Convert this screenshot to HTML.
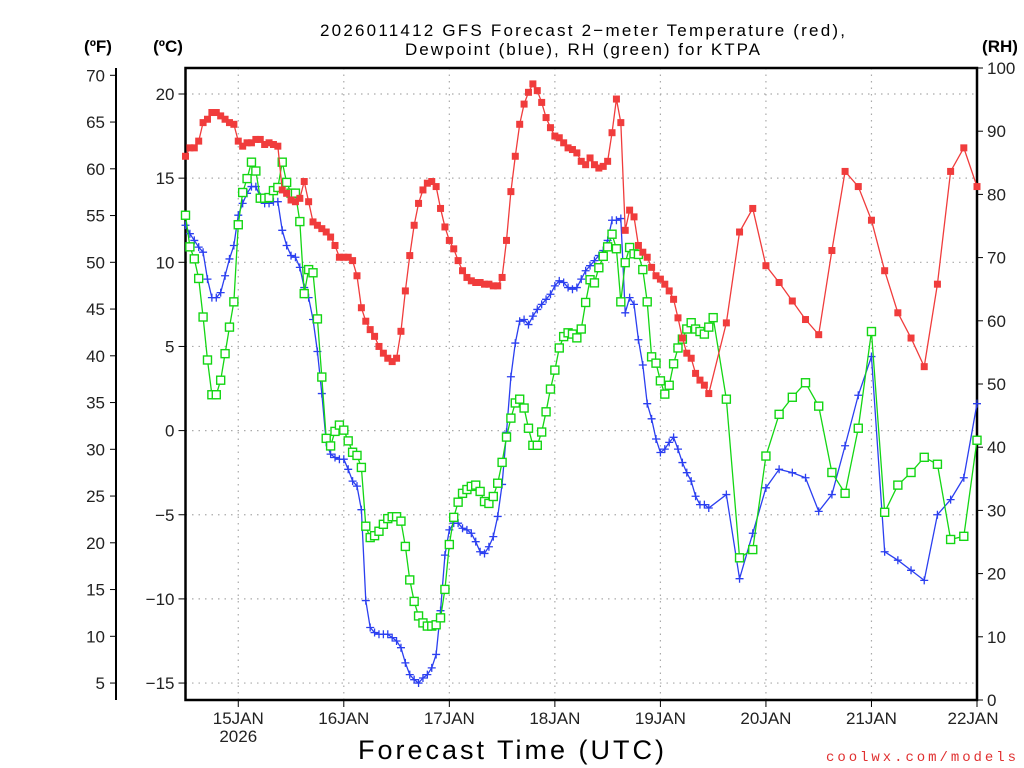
<!DOCTYPE html>
<html><head><meta charset="utf-8">
<style>
html,body{margin:0;padding:0;background:#fff;}
svg{display:block;font-family:"Liberation Sans","DejaVu Sans",sans-serif;}
</style></head>
<body>
<svg id="chart" width="1024" height="768" viewBox="0 0 1024 768" xmlns="http://www.w3.org/2000/svg">
<text x="320" y="36" textLength="525" lengthAdjust="spacing" font-size="17" fill="#000">2026011412 GFS Forecast 2−meter Temperature (red),</text>
<text x="405" y="55" textLength="355" lengthAdjust="spacing" font-size="17" fill="#000">Dewpoint (blue), RH (green) for KTPA</text>
<text x="98" y="52" text-anchor="middle" font-size="17" font-weight="bold">(ºF)</text>
<text x="168" y="52" text-anchor="middle" font-size="17" font-weight="bold">(ºC)</text>
<text x="1000" y="52" text-anchor="middle" font-size="17" font-weight="bold">(RH)</text>
<text x="358" y="759" textLength="306" lengthAdjust="spacing" font-size="27">Forecast Time (UTC)</text>
<text x="826" y="761" textLength="190" lengthAdjust="spacing" font-size="14" fill="#e03030" font-family="Liberation Mono, monospace">coolwx.com/models</text>
<g id="grid"></g>
<g id="axes"></g>
<g id="series"></g>
</svg>
<script>
// hours since 2026-01-14 12Z; hourly to 19/12Z then 3-hourly
const dayLabels = ["15JAN","16JAN","17JAN","18JAN","19JAN","20JAN","21JAN","22JAN"];
const celsiusTicks = [-15,-10,-5,0,5,10,15,20];
const fahrenheitTicks = [5,10,15,20,25,30,35,40,45,50,55,60,65,70];
const rhTicks = [0,10,20,30,40,50,60,70,80,90,100];
const tempHourly = [16.3,16.8,16.8,17.2,18.3,18.5,18.9,18.9,18.7,18.5,18.3,18.2,17.2,16.9,17.1,17.1,17.3,17.3,17.0,17.1,17.0,16.9,
14.3,14.1,13.7,13.6,13.8,14.8,13.6,12.4,12.2,12.0,11.8,11.5,11.0,10.3,
10.3,10.3,10.1,9.2,7.3,6.5,6.0,5.6,5.0,4.6,4.3,4.1,4.3,5.9,8.3,10.4,12.2,13.5,14.3,14.7,14.8,14.5,13.2,12.1,11.3,10.8,10.1,9.5,9.1,8.9,8.8,8.8,8.7,8.7,8.6,8.6,9.1,11.3,14.2,16.3,18.2,19.4,
20.1,20.6,20.2,19.5,18.6,18.0,17.5,17.4,17.1,16.8,16.7,16.5,16.0,15.8,16.2,15.8,15.6,15.7,16.0,17.7,19.7,18.3,11.9,13.1,12.7,11.0,10.6,10.3,9.7,9.2,9.0,8.7,8.3,7.8,6.7,5.5,4.6,4.3,3.4,3.0,2.7,2.2];
const temp3h = [6.4,11.8,13.2,9.8,8.8,7.7,6.6,5.7,10.7,15.4,14.5,12.5,9.5,7.0,5.5,3.8,8.7,15.4,16.8,14.5];
const dewHourly = [12.2,11.7,11.3,10.9,10.6,9.0,7.9,7.9,8.2,9.2,10.2,11.0,12.8,13.5,14.1,14.5,14.5,13.9,13.5,13.5,13.6,13.6,11.9,11.0,10.4,10.3,9.7,8.5,7.9,6.6,4.7,2.2,-0.7,
-1.4,-1.6,-1.7,
-1.7,-2.3,-3.0,-3.3,-4.7,-10.1,-11.7,-12.0,-12.1,-12.1,-12.1,-12.3,-12.5,-12.9,-13.8,-14.5,-14.8,-15.0,-14.7,-14.5,-14.1,-13.3,-10.7,-7.4,-5.9,-5.5,-5.5,-5.8,-5.9,-6.1,-6.6,-7.2,-7.3,-6.9,-6.3,-5.1,-3.2,-0.1,3.2,5.2,6.5,6.6,
6.3,6.8,7.2,7.5,7.8,8.1,8.6,8.9,8.8,8.5,8.4,8.5,9.0,9.5,9.8,10.1,10.4,10.7,11.3,12.5,12.5,12.6,7.0,7.9,7.5,5.4,3.9,1.6,0.7,-0.5,-1.3,-1.1,-0.7,-0.4,-1.1,-1.9,-2.5,-3.0,-3.9,-4.4,-4.4,-4.6];
const dew3h = [-3.8,-8.8,-6.1,-3.4,-2.3,-2.5,-2.8,-4.8,-3.8,-0.9,2.1,4.4,-7.2,-7.7,-8.3,-8.9,-5.0,-4.1,-2.8,1.6];
const rhHourly = [76.7,71.7,69.8,66.7,60.6,53.8,48.3,48.3,50.6,54.8,59.0,63.0,75.2,80.3,82.5,85.1,83.7,79.4,79.4,79.5,80.6,81.1,85.1,81.9,80.2,80.2,75.7,64.3,68.1,67.6,60.3,51.1,41.4,
40.2,42.5,
43.5,42.7,41.0,39.2,38.7,36.8,27.5,25.7,26.0,26.7,27.8,28.7,29.0,29.0,28.3,24.3,19.0,15.6,13.3,12.2,11.7,11.7,11.9,13.0,17.5,24.6,28.9,31.3,32.7,33.3,33.8,34.0,33.0,31.4,31.1,32.2,34.3,37.6,41.6,44.6,47.0,47.6,46.2,43.0,
40.3,40.3,42.4,45.6,49.2,52.2,55.7,57.5,58.1,57.9,57.3,58.7,62.9,66.5,66.0,68.4,70.2,71.7,73.7,71.4,63.0,69.2,71.6,70.6,70.5,68.1,63.0,54.3,53.3,50.5,48.4,49.8,53.2,55.7,57.1,58.7,59.7,58.7,58.3,57.9,59.0,60.5];
const rh3h = [47.6,22.5,23.8,38.6,45.2,47.9,50.2,46.5,36.0,32.7,43.0,58.3,29.7,34.0,36.0,38.4,37.3,25.4,25.9,41.1];

const NS="http://www.w3.org/2000/svg";
const L=185.5,R=977,T=68,B=700;
const xH=h=>L+(h/180)*(R-L);
const yC=c=>430.6-c*16.83;
const yF=f=>yC((f-32)/1.8);
const yRH=r=>B-r*(B-T)/100;
function mk(tag,attrs,parent){const e=document.createElementNS(NS,tag);for(const k in attrs)e.setAttribute(k,attrs[k]);parent.appendChild(e);return e;}
const grid=document.getElementById('grid'),axes=document.getElementById('axes'),ser=document.getElementById('series');

dayLabels.forEach((d,i)=>{const x=xH(12+24*i);
 if(i<7){const g=mk('line',{x1:x,x2:x,y1:T,y2:B,stroke:'#aaa','stroke-width':1.2,'stroke-dasharray':'1.5 5'},grid);
 
 }
 const tk=mk('line',{x1:x,x2:x,y1:B,y2:B+7,stroke:'#000','stroke-width':1},axes);
 
 
 const t=mk('text',{x:i==7?x-4:x,y:B+24,'text-anchor':'middle','font-size':17,fill:'#222'},axes);t.textContent=d;
 
 
});
const yr=mk('text',{x:xH(12),y:B+42,'text-anchor':'middle','font-size':17,fill:'#222'},axes);yr.textContent='2026';



celsiusTicks.forEach(c=>{const y=yC(c);
 const g=mk('line',{x1:L,x2:R,y1:y,y2:y,stroke:'#aaa','stroke-width':1.2,'stroke-dasharray':'1.5 5'},grid);
 
 
 mk('line',{x1:L-7,x2:L,y1:y,y2:y,stroke:'#000'},axes);
 const t=mk('text',{x:L-11,y:y+6,'text-anchor':'end','font-size':17,fill:'#222'},axes);t.textContent=c<0?'−'+(-c):c;
 
 
});
const fa=mk('line',{x1:116,x2:116,y1:T,y2:B,stroke:'#000','stroke-width':2},axes);


fahrenheitTicks.forEach(f=>{const y=yF(f);
 mk('line',{x1:110,x2:116,y1:y,y2:y,stroke:'#000'},axes);
 const t=mk('text',{x:105,y:y+6,'text-anchor':'end','font-size':17,fill:'#222'},axes);t.textContent=f;
 
 
});
rhTicks.forEach(r=>{const y=yRH(r);
 mk('line',{x1:R,x2:R+6,y1:y,y2:y,stroke:'#000'},axes);
 const t=mk('text',{x:R+10,y:y+6,'text-anchor':'start','font-size':17,fill:'#222'},axes);t.textContent=r;
 
 
});
const fr=mk('path',{d:`M${L},${T}H${R}V${B}H${L}Z`,fill:'none',stroke:'#000','stroke-width':2.5},axes);



function pts(hourly,three){const a=hourly.map((v,i)=>[i,v]);three.forEach((v,i)=>a.push([123+3*i,v]));return a;}
function drawSeries(data,yf,color,marker,name){
 const g=mk('g',{},ser);
 
 
 const P=data.map(([h,v])=>[xH(h),yf(v)]);
 mk('polyline',{points:P.map(p=>p.join(',')).join(' '),fill:'none',stroke:color,'stroke-width':1.3},g);
 P.forEach(([x,y])=>{let m;
  if(marker==='fill'){m=mk('rect',{x:x-3.5,y:y-3.5,width:7,height:7,fill:color},g);}
  else if(marker==='open'){m=mk('rect',{x:x-4,y:y-4,width:8,height:8,fill:'#fff',stroke:color,'stroke-width':1.4},g);}
  else {m=mk('path',{d:`M${x-4},${y}H${x+4}M${x},${y-4}V${y+4}`,stroke:color,'stroke-width':1.3},g);}
  
  
 });
}
drawSeries(pts(dewHourly,dew3h),yC,'#2b3ff0','plus','dewpoint-series');
drawSeries(pts(rhHourly,rh3h),yRH,'#14d614','open','rh-series');
drawSeries(pts(tempHourly,temp3h),yC,'#f03c3c','fill','temperature-series');
</script>
</body></html>
